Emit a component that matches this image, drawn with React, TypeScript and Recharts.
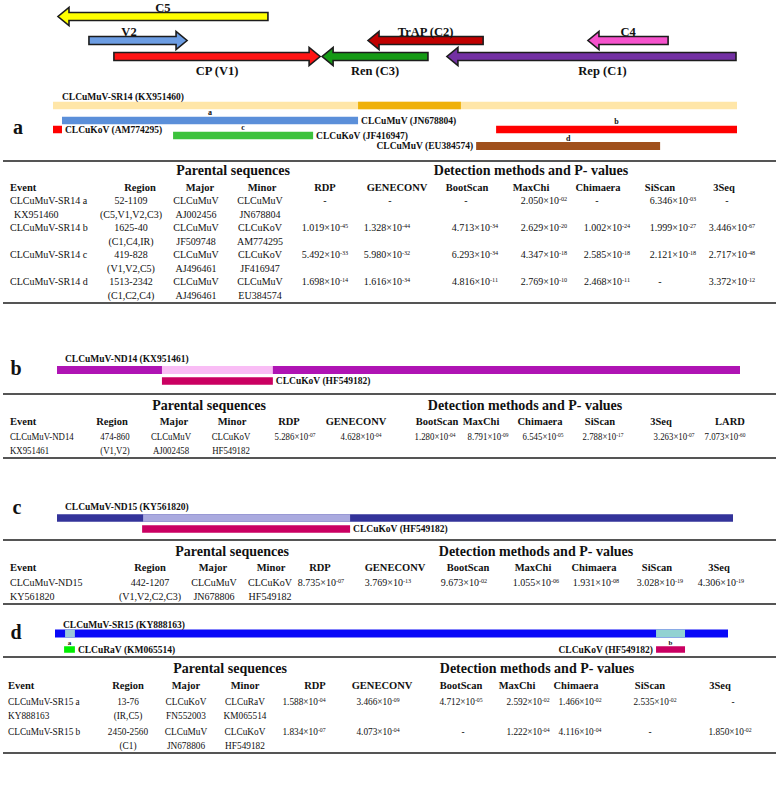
import React from "react";
import { BarChart, Bar, XAxis, YAxis } from "recharts";

const SERIF = '"Liberation Serif", "Times New Roman", Times, serif';
const W = 778;
const GENOME_NT = 2740;

// ---------- genome organisation (top) ----------
const orfNames = ["C5", "V2", "CP (V1)", "Ren (C3)", "TrAP (C2)", "C4", "Rep (C1)"];
const orfStart = [20, 144, 244, 1078, 1262, 2143, 1578];
const orfEnd = [861, 537, 1070, 1502, 1723, 2464, 2736];
const orfStrand = [-1, 1, 1, -1, -1, -1, -1];
const orfTrack = [2, 5, 7, 7, 5, 5, 7];

// ---------- a: CLCuMuV-SR14 ----------
const sr14Ids = ["SR14", "JN678804", "a", "b-IR", "b", "c", "d"];
const sr14Start = [0, 1222, 36, 0, 1775, 481, 1695];
const sr14End = [2740, 1634, 1222, 36, 2740, 1042, 2432];
const sr14Track = [5, 5, 10, 13, 13, 15, 18.5];
const sr14Label = ["CLCuMuV-SR14 (KX951460)", "", "CLCuMuV (JN678804)", "CLCuKoV (AM774295)", "", "CLCuKoV (JF416947)", "CLCuMuV (EU384574)"];
const sr14Tag = ["", "", "a", "", "b", "c", "d"];

// ---------- b: CLCuMuV-ND14 ----------
const nd14Ids = ["ND14", "ND14-rec", "HF549182"];
const nd14Start = [0, 421, 421];
const nd14End = [2740, 866, 866];
const nd14Track = [0, 0, 1];
const nd14Label = ["CLCuMuV-ND14 (KX951461)", "", "CLCuKoV (HF549182)"];
const nd14Tag = ["", "", ""];

// ---------- c: CLCuMuV-ND15 ----------
const nd15Ids = ["ND15", "ND15-rec", "HF549182"];
const nd15Start = [0, 349, 345];
const nd15End = [2740, 1188, 1188];
const nd15Track = [0, 0, 1];
const nd15Label = ["CLCuMuV-ND15 (KY561820)", "", "CLCuKoV (HF549182)"];
const nd15Tag = ["", "", ""];

// ---------- d: CLCuMuV-SR15 ----------
const sr15Ids = ["SR15", "SR15-a", "SR15-b", "a", "b"];
const sr15Start = [0, 41, 2447, 37, 2447];
const sr15End = [2740, 81, 2565, 81, 2565];
const sr15Track = [0, 0, 0, 1, 1];
const sr15Label = ["CLCuMuV-SR15 (KY888163)", "", "", "CLCuRaV (KM065514)", "CLCuKoV (HF549182)"];
const sr15Tag = ["", "", "", "a", "b"];

// ---------- tables ----------
const methods7 = ["RDP", "GENECONV", "BootScan", "MaxChi", "Chimaera", "SiScan", "3Seq"];
const baseHeads = ["Event", "Region", "Major", "Minor"];

const aEvent = [["CLCuMuV-SR14 a", "KX951460"], ["CLCuMuV-SR14 b", ""], ["CLCuMuV-SR14 c", ""], ["CLCuMuV-SR14 d", ""]];
const aRegion = [["52-1109", "(C5,V1,V2,C3)"], ["1625-40", "(C1,C4,IR)"], ["419-828", "(V1,V2,C5)"], ["1513-2342", "(C1,C2,C4)"]];
const aMajor = [["CLCuMuV", "AJ002456"], ["CLCuMuV", "JF509748"], ["CLCuMuV", "AJ496461"], ["CLCuMuV", "AJ496461"]];
const aMinor = [["CLCuMuV", "JN678804"], ["CLCuKoV", "AM774295"], ["CLCuKoV", "JF416947"], ["CLCuMuV", "EU384574"]];
const aPval = [
  [null, null, null, "2.050e-02", null, "6.346e-03", null],
  ["1.019e-45", "1.328e-44", "4.713e-34", "2.629e-20", "1.002e-24", "1.999e-27", "3.446e-67"],
  ["5.492e-33", "5.980e-32", "6.293e-34", "4.347e-18", "2.585e-18", "2.121e-18", "2.717e-48"],
  ["1.698e-14", "1.616e-34", "4.816e-11", "2.769e-10", "2.468e-11", null, "3.372e-12"],
];

const bEvent = [["CLCuMuV-ND14", "KX951461"]];
const bRegion = [["474-860", "(V1,V2)"]];
const bMajor = [["CLCuMuV", "AJ002458"]];
const bMinor = [["CLCuKoV", "HF549182"]];
const bPval = [["5.286e-07", "4.628e-04", "1.280e-04", "8.791e-09", "6.545e-05", "2.788e-17", "3.263e-07", "7.073e-60"]];

const cEvent = [["CLCuMuV-ND15", "KY561820"]];
const cRegion = [["442-1207", "(V1,V2,C2,C3)"]];
const cMajor = [["CLCuMuV", "JN678806"]];
const cMinor = [["CLCuKoV", "HF549182"]];
const cPval = [["8.735e-07", "3.769e-13", "9.673e-02", "1.055e-06", "1.931e-08", "3.028e-19", "4.306e-19"]];

const dEvent = [["CLCuMuV-SR15 a", "KY888163"], ["CLCuMuV-SR15 b", ""]];
const dRegion = [["13-76", "(IR,C5)"], ["2450-2560", "(C1)"]];
const dMajor = [["CLCuKoV", "FN552003"], ["CLCuMuV", "JN678806"]];
const dMinor = [["CLCuRaV", "KM065514"], ["CLCuKoV", "HF549182"]];
const dPval = [
  ["1.588e-04", "3.466e-09", "4.712e-05", "2.592e-02", "1.466e-02", "2.535e-02", null],
  ["1.834e-07", "4.073e-04", null, "1.222e-04", "4.116e-04", null, "1.850e-02"],
];

// ---------- styles ----------
const orfColor: Record<string, string> = {
  C5: "#FFFF00",
  V2: "#6C9DE3",
  "CP (V1)": "#FF1414",
  "Ren (C3)": "#159A15",
  "TrAP (C2)": "#C00000",
  C4: "#F552CC",
  "Rep (C1)": "#7330A3",
};
const orfAbove = ["C5", "V2", "TrAP (C2)", "C4"];
// label nudges (px) where the figure does not centre the name on the arrow
const orfLabelDx: Record<string, number> = { V2: -9, "Rep (C1)": 11 };

const toSegs = (ids: string[], tracks: number[], starts: number[], ends: number[], labels: string[], tags: string[]) =>
  ids.map((id, i) => ({ id, track: tracks[i], span: [starts[i], ends[i]], label: labels[i], tag: tags[i] }));

const orfData = orfNames.map((name, i) => ({
  id: name,
  track: orfTrack[i],
  span: [orfStart[i], orfEnd[i]],
  strand: orfStrand[i],
}));

function orfShape(props: any) {
  const { x, y, width, height, payload } = props;
  if (x == null || y == null) return <g />;
  const cy = y + height / 2;
  const h = 4;
  const head = 11;
  const wing = 9;
  const x0 = x;
  const x1 = x + width;
  const pts =
    payload.strand > 0
      ? [[x0, cy - h], [x1 - head, cy - h], [x1 - head, cy - wing], [x1, cy], [x1 - head, cy + wing], [x1 - head, cy + h], [x0, cy + h]]
      : [[x1, cy - h], [x0 + head, cy - h], [x0 + head, cy - wing], [x0, cy], [x0 + head, cy + wing], [x0 + head, cy + h], [x1, cy + h]];
  const above = orfAbove.includes(payload.id);
  return (
    <g>
      <polygon
        points={pts.map((p) => p.join(",")).join(" ")}
        fill={orfColor[payload.id]}
        stroke="#1c1c1c"
        strokeWidth={1.6}
      />
      <text
        x={(x0 + x1) / 2 + (orfLabelDx[payload.id] ?? 0)}
        y={above ? cy - 5 : cy + 18}
        textAnchor="middle"
        fontFamily={SERIF}
        fontWeight="bold"
        fontSize={12.5}
        fill="#111"
      >
        {payload.id}
      </text>
    </g>
  );
}

type SegStyle = {
  color: Record<string, string>;
  side: Record<string, string>;
  thick: Record<string, number>;
  aboveDx: number;
  aboveDy: number;
  tagDy: number;
  tagSize: number;
};

function segShape(st: SegStyle) {
  return (props: any) => {
    const { x, y, width, height, payload } = props;
    if (x == null || y == null) return <g />;
    const cy = y + height / 2;
    const t = st.thick[payload.id] ?? 8;
    const side = st.side[payload.id];
    const lab = payload.label;
    const fs = 9.5;
    return (
      <g>
        <rect x={x} y={cy - t / 2} width={width} height={t} fill={st.color[payload.id]} />
        {payload.tag ? (
          <text x={x + width / 2} y={cy - st.tagDy} textAnchor="middle" dominantBaseline="central"
            fontFamily={SERIF} fontWeight="bold" fontSize={st.tagSize} fill="#111">
            {payload.tag}
          </text>
        ) : null}
        {lab && side === "above" ? (
          <text x={x + st.aboveDx} y={cy - st.aboveDy} dominantBaseline="central"
            fontFamily={SERIF} fontWeight="bold" fontSize={fs} fill="#111">
            {lab}
          </text>
        ) : null}
        {lab && side === "right" ? (
          <text x={x + width + 3} y={cy} dominantBaseline="central"
            fontFamily={SERIF} fontWeight="bold" fontSize={fs} fill="#111">
            {lab}
          </text>
        ) : null}
        {lab && side === "left" ? (
          <text x={x - 3} y={cy} textAnchor="end" dominantBaseline="central"
            fontFamily={SERIF} fontWeight="bold" fontSize={fs} fill="#111">
            {lab}
          </text>
        ) : null}
      </g>
    );
  };
}

const sr14Style: SegStyle = {
  color: { SR14: "#FFE6A8", JN678804: "#EFB10A", a: "#5B8FD9", "b-IR": "#FF0000", b: "#FF0000", c: "#3CC23C", d: "#A0501C" },
  side: { SR14: "above", a: "right", "b-IR": "right", c: "right", d: "left" },
  thick: { SR14: 7.5, JN678804: 7.5, a: 7.5, "b-IR": 7.5, b: 7.5, c: 7.5, d: 8 },
  aboveDx: 9,
  aboveDy: 8.5,
  tagDy: 8,
  tagSize: 8,
};
const nd14Style: SegStyle = {
  color: { ND14: "#AF14B4", "ND14-rec": "#F9BDF5", HF549182: "#CA0062" },
  side: { ND14: "above", HF549182: "right" },
  thick: { ND14: 8, "ND14-rec": 8, HF549182: 7.5 },
  aboveDx: 8,
  aboveDy: 11,
  tagDy: 7,
  tagSize: 8,
};
const nd15Style: SegStyle = {
  color: { ND15: "#33339A", "ND15-rec": "#AAAADF", HF549182: "#CA0062" },
  side: { ND15: "above", HF549182: "right" },
  thick: { ND15: 7.5, "ND15-rec": 7.5, HF549182: 7.5 },
  aboveDx: 8,
  aboveDy: 11,
  tagDy: 7,
  tagSize: 8,
};
const sr15Style: SegStyle = {
  color: { SR15: "#0808F8", "SR15-a": "#9AC8D8", "SR15-b": "#92D2D2", a: "#00EE00", b: "#CA0062" },
  side: { SR15: "above", a: "right", b: "left" },
  thick: { SR15: 8, "SR15-a": 8, "SR15-b": 8, a: 6.5, b: 6.5 },
  aboveDx: 8,
  aboveDy: 9,
  tagDy: 7,
  tagSize: 7,
};

function TrackChart({ data, top, height, left, right, domain, shape }: any) {
  return (
    <div style={{ position: "absolute", left: 0, top, width: W, height }}>
      <BarChart width={W} height={height} data={data} layout="vertical"
        margin={{ top: 0, right, bottom: 0, left }}>
        <XAxis type="number" domain={[0, GENOME_NT]} hide allowDataOverflow />
        <YAxis type="number" dataKey="track" domain={domain} hide allowDataOverflow />
        <Bar dataKey="span" barSize={1} isAnimationActive={false} shape={shape} />
      </BarChart>
    </div>
  );
}

function Txt({ x, y, align = "center", bold = false, size, squeeze = 1, children }: any) {
  return (
    <div
      style={{
        position: "absolute",
        left: x,
        top: y,
        transform: `translate(${align === "left" ? "0" : "-50%"}, -50%) scaleX(${squeeze})`,
        transformOrigin: align === "left" ? "0 50%" : "50% 50%",
        whiteSpace: "pre",
        fontSize: size,
        fontWeight: bold ? 700 : 400,
        lineHeight: 1,
        color: "#111",
      }}
    >
      {children}
    </div>
  );
}

function PValue({ v }: { v: string | null }) {
  if (!v) return <>-</>;
  const [m, e] = v.split("e");
  return (
    <>
      {m}×10<span style={{ fontSize: "0.62em", verticalAlign: "0.5em" }}>{e}</span>
    </>
  );
}

type TableLayout = {
  top: number;
  bottom: number;
  groupY: number;
  headY: number;
  lineY: number[];
  parentX: number;
  detectX: number;
  hx: number[];
  vx: number[];
  dx: number[];
  size: number;
  headSize: number;
  groupSize: number;
  squeeze: number;
  indent: number;
};

function EventTable({ heads, events, regions, majors, minors, pvals, L }: any) {
  const lay: TableLayout = L;
  const cells: any[] = [];
  heads.forEach((h: string, c: number) =>
    cells.push(
      <Txt key={"h" + c} x={lay.hx[c]} y={lay.headY} align={c === 0 ? "left" : "center"} bold size={lay.headSize}>
        {h}
      </Txt>
    )
  );
  events.forEach((ev: string[], r: number) => {
    const y1 = lay.lineY[2 * r];
    const y2 = lay.lineY[2 * r + 1];
    [ev, regions[r], majors[r], minors[r]].forEach((pair: string[], c: number) => {
      pair.forEach((s, k) => {
        if (!s) return;
        cells.push(
          <Txt key={`v${r}-${c}-${k}`} x={lay.vx[c] + (c === 0 && k === 1 ? lay.indent : 0)} y={k ? y2 : y1}
            align={c === 0 ? "left" : "center"} size={lay.size} squeeze={lay.squeeze}>
            {s}
          </Txt>
        );
      });
    });
    pvals[r].forEach((v: string | null, m: number) =>
      cells.push(
        <Txt key={`p${r}-${m}`} x={v ? lay.vx[4 + m] : lay.dx[m]} y={y1} size={lay.size} squeeze={lay.squeeze}>
          <PValue v={v} />
        </Txt>
      )
    );
  });
  const rule = (y: number, k: string) => (
    <div key={k} style={{ position: "absolute", left: 3, top: y - 1, width: 773, height: 2, background: "#555" }} />
  );
  return (
    <>
      {rule(lay.top, "t")}
      {rule(lay.bottom, "b")}
      <Txt x={lay.parentX} y={lay.groupY} bold size={lay.groupSize}>Parental sequences</Txt>
      <Txt x={lay.detectX} y={lay.groupY} bold size={lay.groupSize}>Detection methods and P- values</Txt>
      {cells}
    </>
  );
}

const tableALayout: TableLayout = {
  top: 161, bottom: 303, groupY: 171, headY: 187.5,
  lineY: [201, 214.5, 228, 241.5, 255, 268.5, 282, 295.5],
  parentX: 233, detectX: 531,
  hx: [10, 140, 200, 262, 325, 397, 467, 531, 598, 660, 724],
  vx: [10, 131, 196, 260, 325, 387, 475, 544, 607, 673, 732],
  dx: [325, 390, 466, 531, 597, 660, 727],
  size: 10, headSize: 10.5, groupSize: 14, squeeze: 1, indent: 4,
};
const tableBLayout: TableLayout = {
  top: 394, bottom: 458, groupY: 406, headY: 422,
  lineY: [437, 450.5],
  parentX: 209, detectX: 525,
  hx: [10, 112, 174, 232, 289, 356, 437, 481, 540, 600, 661, 730],
  vx: [10, 115, 171, 231, 295, 361, 435, 488, 543, 603, 674, 725],
  dx: [289, 356, 437, 481, 540, 600, 661, 730],
  size: 10, headSize: 10.5, groupSize: 14, squeeze: 0.88, indent: 0,
};
const tableCLayout: TableLayout = {
  top: 540, bottom: 604, groupY: 551.5, headY: 568,
  lineY: [583, 597],
  parentX: 232, detectX: 536,
  hx: [10, 150, 213, 271, 320, 395, 468, 533, 594, 657, 719],
  vx: [10, 150, 214, 270, 321, 388, 464, 536, 596, 660, 721],
  dx: [320, 395, 468, 533, 594, 657, 719],
  size: 10, headSize: 10.5, groupSize: 14, squeeze: 1, indent: 0,
};
const tableDLayout: TableLayout = {
  top: 657, bottom: 753, groupY: 669, headY: 686,
  lineY: [702, 716, 732, 746],
  parentX: 230, detectX: 537,
  hx: [8, 128, 186, 245, 315, 382, 461, 517, 576, 650, 720],
  vx: [8, 128, 186, 245, 304, 378, 461, 528, 580, 655, 730],
  dx: [315, 382, 463, 517, 576, 650, 733],
  size: 10, headSize: 10.5, groupSize: 14, squeeze: 0.93, indent: 0,
};

function PanelLetter({ x, y, children }: any) {
  return (
    <Txt x={x} y={y} bold size={20}>
      {children}
    </Txt>
  );
}

export default function App() {
  return (
    <div
      style={{
        position: "absolute",
        left: 0,
        top: 0,
        width: W,
        height: 787,
        background: "#fff",
        fontFamily: SERIF,
        overflow: "hidden",
      }}
    >
      <TrackChart data={orfData} top={0} height={80} left={53} right={41} domain={[0, 10]} shape={orfShape} />

      <PanelLetter x={18} y={127}>a</PanelLetter>
      <TrackChart
        data={toSegs(sr14Ids, sr14Track, sr14Start, sr14End, sr14Label, sr14Tag)}
        top={90} height={66} left={53} right={41} domain={[0, 22]} shape={segShape(sr14Style)}
      />
      <EventTable heads={[...baseHeads, ...methods7]} events={aEvent} regions={aRegion} majors={aMajor}
        minors={aMinor} pvals={aPval} L={tableALayout} />

      <PanelLetter x={16} y={368}>b</PanelLetter>
      <TrackChart
        data={toSegs(nd14Ids, nd14Track, nd14Start, nd14End, nd14Label, nd14Tag)}
        top={348} height={44} left={57} right={38} domain={[-2, 2]} shape={segShape(nd14Style)}
      />
      <EventTable heads={[...baseHeads, ...methods7, "LARD"]} events={bEvent} regions={bRegion} majors={bMajor}
        minors={bMinor} pvals={bPval} L={tableBLayout} />

      <PanelLetter x={17} y={507}>c</PanelLetter>
      <TrackChart
        data={toSegs(nd15Ids, nd15Track, nd15Start, nd15End, nd15Label, nd15Tag)}
        top={496} height={44} left={57} right={45} domain={[-2, 2]} shape={segShape(nd15Style)}
      />
      <EventTable heads={[...baseHeads, ...methods7]} events={cEvent} regions={cRegion} majors={cMajor}
        minors={cMinor} pvals={cPval} L={tableCLayout} />

      <PanelLetter x={16} y={632}>d</PanelLetter>
      <TrackChart
        data={toSegs(sr15Ids, sr15Track, sr15Start, sr15End, sr15Label, sr15Tag)}
        top={601} height={64} left={55} right={50} domain={[-2, 2]} shape={segShape(sr15Style)}
      />
      <EventTable heads={[...baseHeads, ...methods7]} events={dEvent} regions={dRegion} majors={dMajor}
        minors={dMinor} pvals={dPval} L={tableDLayout} />
    </div>
  );
}
